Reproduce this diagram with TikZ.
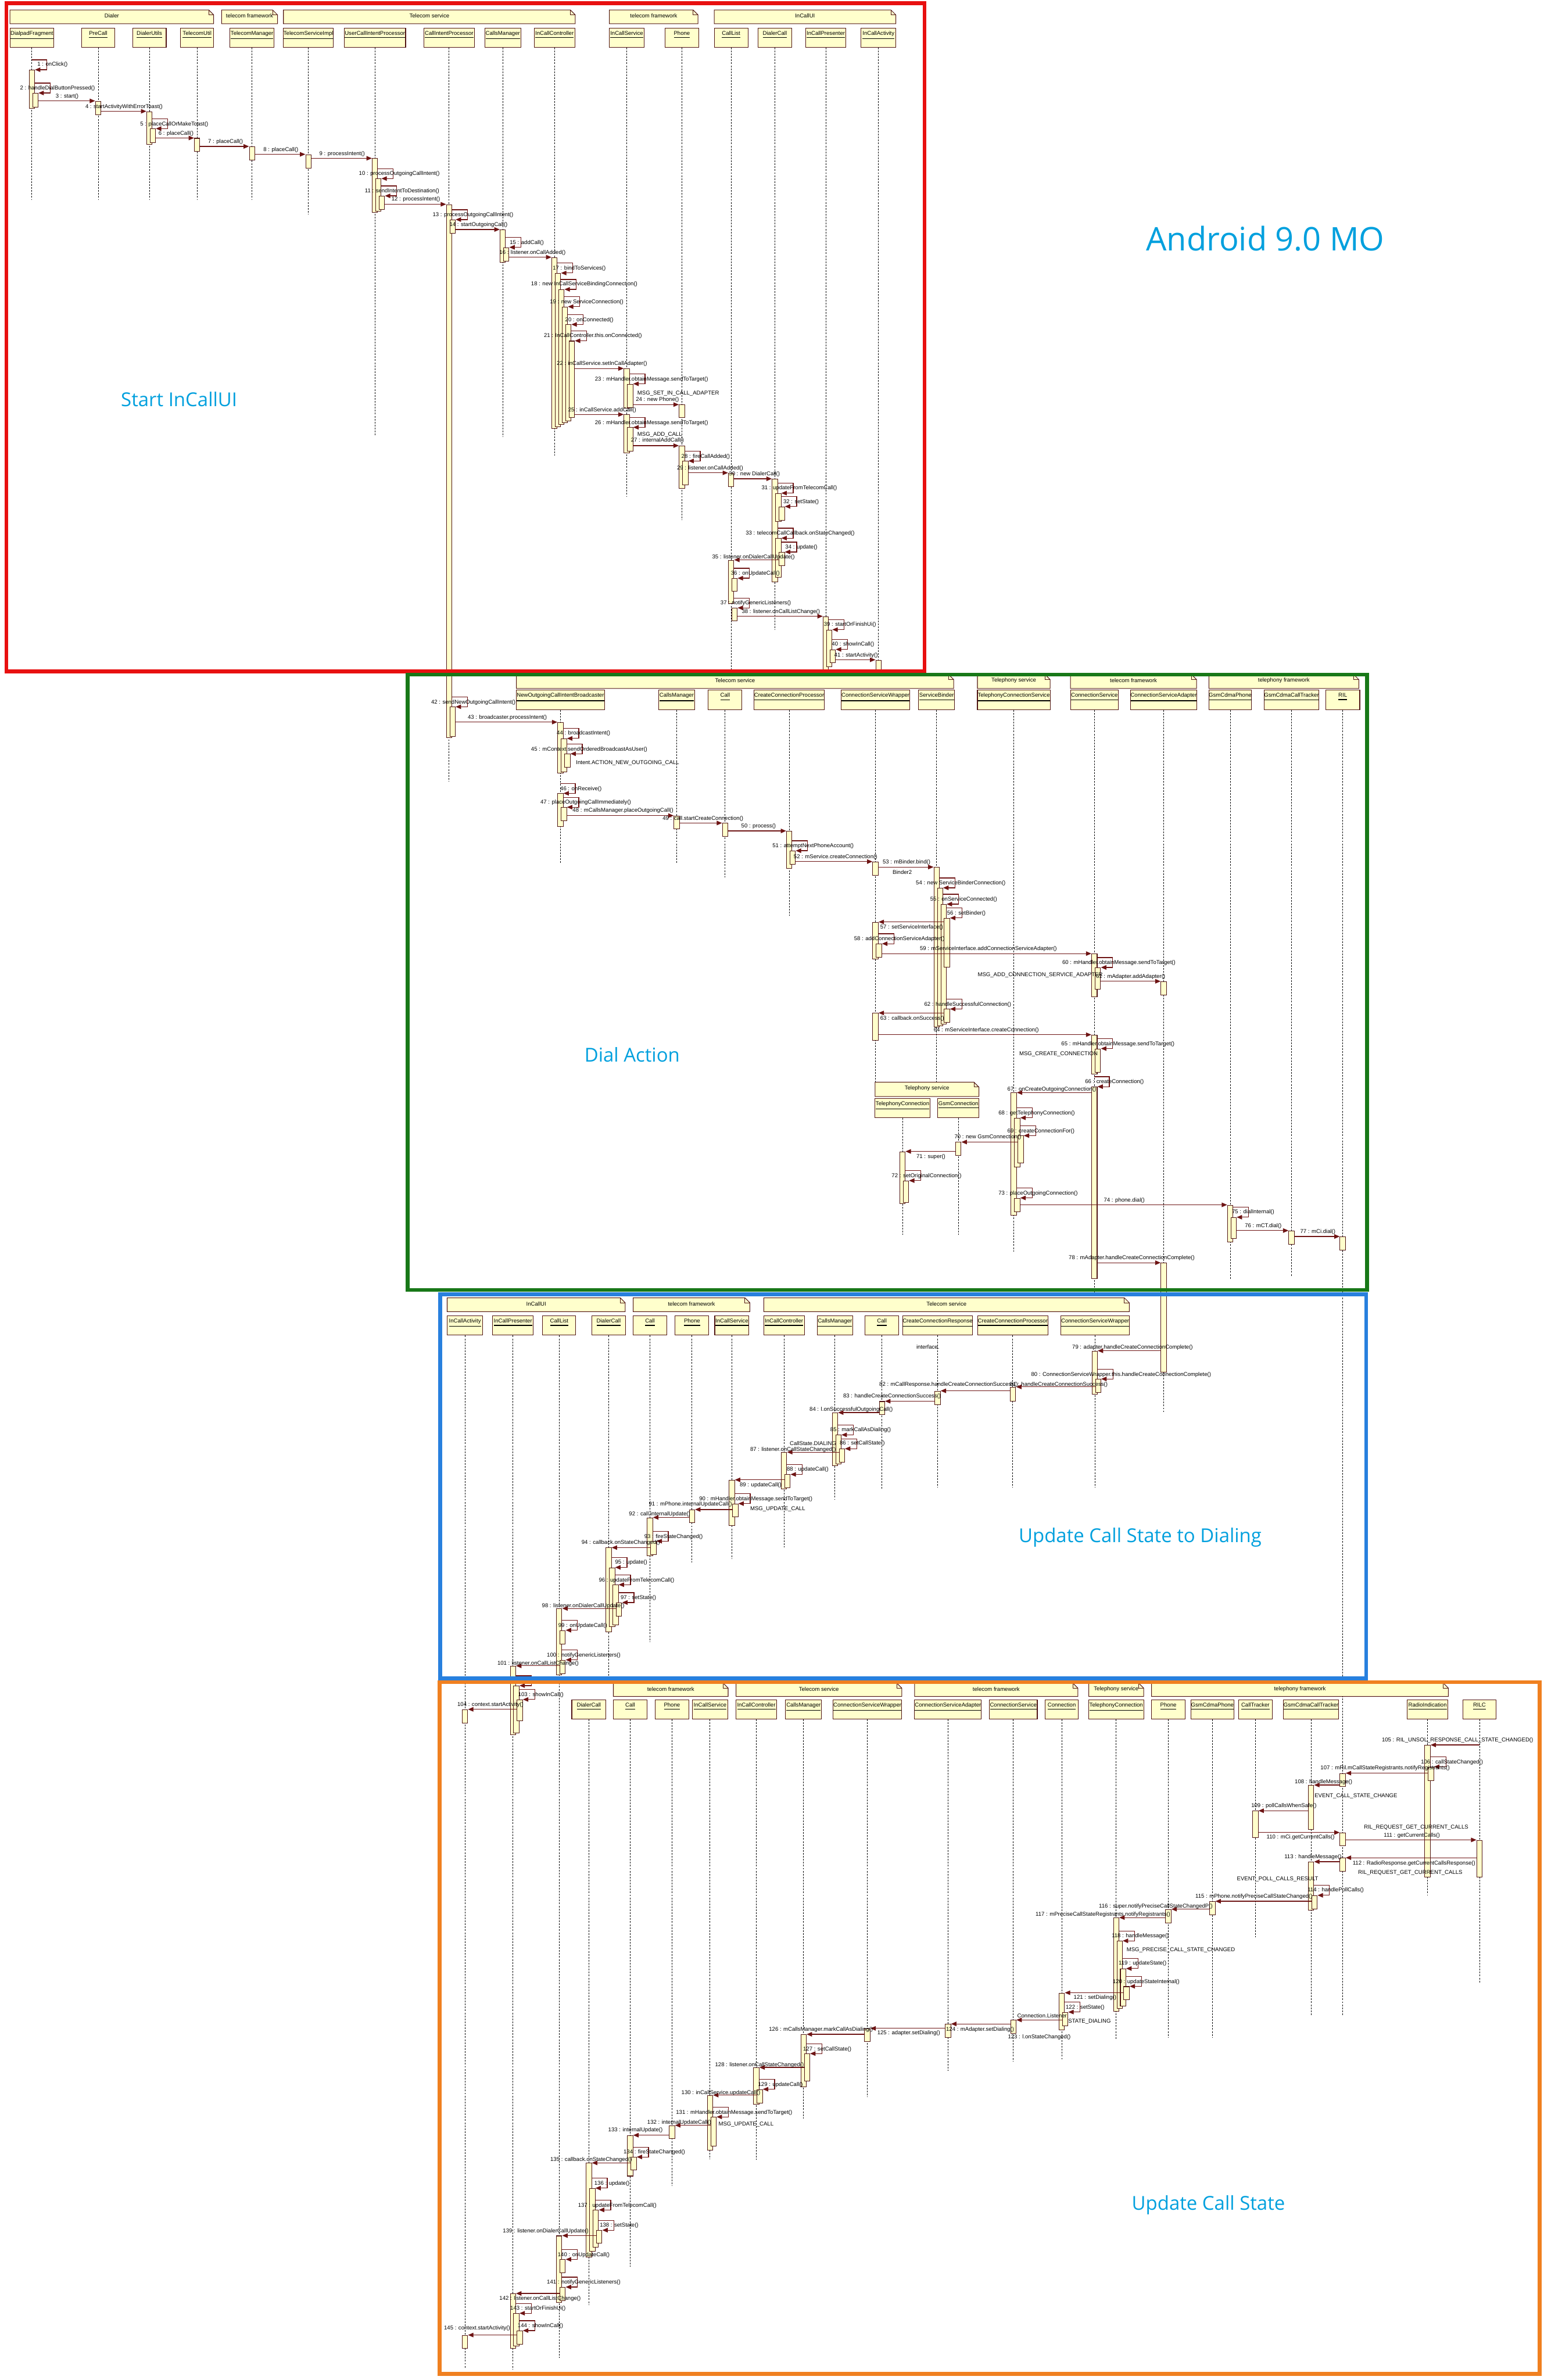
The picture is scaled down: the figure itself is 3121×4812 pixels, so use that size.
\documentclass[tikz,border=0pt]{standalone}
\usepackage{fontspec}
\newfontfamily\umlfont{Liberation Sans}
\newfontfamily\titlefont{Open Sans}
\usetikzlibrary{arrows.meta,calc}
\pgfdeclarelayer{fg}
\pgfsetlayers{main,fg}
\definecolor{umlfill}{RGB}{255,255,204}
\definecolor{umledge}{RGB}{80,20,20}
\definecolor{umlmsg}{RGB}{110,20,20}
\definecolor{boxred}{RGB}{232,16,16}
\definecolor{boxgreen}{RGB}{24,120,24}
\definecolor{boxblue}{RGB}{40,128,222}
\definecolor{boxorange}{RGB}{240,128,32}
\definecolor{titleblue}{RGB}{0,160,222}
\tikzset{
  hdr/.style={draw=umledge,fill=umlfill,line width=0.012cm,inner xsep=0pt,inner ysep=0.02cm,
    text height=0.12cm,text depth=0.23cm,anchor=north,font=\umlfont\fontsize{3.2}{3.8}\selectfont},
  abar/.style={draw=umledge,fill=umlfill,line width=0.012cm,minimum width=0.11cm,inner sep=0pt,anchor=north},
  msg/.style={draw=umlmsg,line width=0.014cm,-{Triangle[length=0.11cm,width=0.09cm]}},
  life/.style={draw=black,line width=0.01cm,dash pattern=on 0.035cm off 0.025cm},
  lbl/.style={font=\umlfont\fontsize{3.2}{3.8}\selectfont,inner sep=0pt,anchor=west},
  pkg/.style={draw=umledge,fill=umlfill,line width=0.012cm},
  sect/.style={line width=0.08cm},
  caption/.style={font=\titlefont\fontsize{11}{13}\selectfont,text=titleblue}
}
\newcommand{\lifeln}[6]{\node[hdr,minimum width=#4*0.01cm] (#1) at (#2,#3) {\underline{#6}};
  \draw[life] (#1.south) -- (#1.south |- 0,#5);}
\newcommand{\pkgframe}[6]{\draw[pkg] (#1,#3) -- (#2-10,#3) -- (#2,#3+10) -- (#2,#4) -- (#1,#4) -- cycle;
  \draw[umledge,line width=0.012cm] (#2-10,#3) -- (#2-10,#3+10) -- (#2,#3+10);
  \node[lbl,anchor=center] (#6) at ({(#1+#2)/2},#3+12) {#5};}
\newcommand{\actb}[4]{\node[abar,minimum height={(#4-#3)*0.01cm}] (#1) at (#2,#3) {};}
\newcommand{\msgr}[2]{\draw[msg] (#1.east |- #2.north) -- (#2.north west);}
\newcommand{\msgl}[2]{\draw[msg] (#1.west |- #2.north) -- (#2.north east);}
\newcommand{\msglf}[2]{\draw[msg] (#1.south |- #2.north) -- (#2.north east);}
\newcommand{\msgs}[2]{\draw[msg] ($(#1.east |- #2.north)+(0,-20)$) -| ($(#2.north east)+(24,0)$) -- (#2.north east);}
\newcommand{\msgsl}[2]{\draw[msg] ($(#1.south |- #2.north)+(0,-20)$) -| ($(#2.north east)+(24,0)$) -- (#2.north east);}
\newcommand{\mlabel}[4]{\begin{pgfonlayer}{fg}\node[lbl] (#1) at (#2,#3) {#4};\end{pgfonlayer}}
\begin{document}
\begin{tikzpicture}[x=0.01cm,y=-0.01cm]
\useasboundingbox[fill=white] (0,0) rectangle (3121,4812);

\pkgframe{20}{432}{20}{48}{Dialer}{pDialer}
\pkgframe{448}{561}{20}{48}{telecom framework}{pTfwA}
\pkgframe{573}{1163}{20}{48}{Telecom service}{pTsvA}
\pkgframe{1232}{1411}{20}{48}{telecom framework}{pTfwB}
\pkgframe{1444}{1811}{20}{48}{InCallUI}{pUiA}
\lifeln{dpf}{64.5}{56}{89}{404}{DialpadFragment}
\lifeln{pre}{198.5}{56}{67}{404}{PreCall}
\lifeln{dut}{302}{56}{68}{404}{DialerUtils}
\lifeln{tut}{398.5}{56}{67}{404}{TelecomUtil}
\lifeln{tmg}{509.5}{56}{89}{404}{TelecomManager}
\lifeln{tsi}{623.5}{56}{101}{433}{TelecomServiceImpl}
\lifeln{uci}{758}{56}{124}{880}{UserCallIntentProcessor}
\lifeln{cip}{908}{56}{102}{1580}{CallIntentProcessor}
\lifeln{cmA}{1016.5}{56}{73}{884}{CallsManager}
\lifeln{iccA}{1121}{56}{82}{921}{InCallController}
\lifeln{icsA}{1267}{56}{70}{1003}{InCallService}
\lifeln{phA}{1378.5}{56}{69}{1051}{Phone}
\lifeln{clA}{1478}{56}{68}{1360}{CallList}
\lifeln{dcA}{1566.5}{56}{69}{1274}{DialerCall}
\lifeln{ipA}{1669.5}{56}{81}{1360}{InCallPresenter}
\lifeln{iaA}{1776}{56}{70}{1360}{InCallActivity}

\pkgframe{1044}{1928}{1364}{1392}{Telecom service}{pTsvB}
\pkgframe{1976}{2123}{1364}{1392}{Telephony service}{pTelB}
\pkgframe{2164}{2419}{1364}{1392}{telecom framework}{pTfwC}
\pkgframe{2444}{2747}{1364}{1392}{telephony framework}{pTyfB}
\lifeln{nob}{1133}{1395}{178}{1744}{NewOutgoingCallIntentBroadcaster}
\lifeln{cmB}{1368}{1395}{72}{1744}{CallsManager}
\lifeln{caB}{1466}{1395}{68}{1774}{Call}
\lifeln{ccpB}{1595.5}{1395}{143}{1852}{CreateConnectionProcessor}
\lifeln{cswB}{1770}{1395}{138}{2187}{ConnectionServiceWrapper}
\lifeln{sbB}{1893.5}{1395}{73}{2187}{ServiceBinder}
\lifeln{tcsB}{2049.5}{1395}{147}{2531}{TelephonyConnectionService}
\lifeln{csB}{2212.5}{1395}{97}{2615}{ConnectionService}
\lifeln{csaB}{2352.5}{1395}{135}{2855}{ConnectionServiceAdapter}
\lifeln{gpB}{2487}{1395}{86}{2587}{GsmCdmaPhone}
\lifeln{gctB}{2611}{1395}{108}{2580}{GsmCdmaCallTracker}
\lifeln{rilB}{2714.5}{1395}{69}{4075}{RIL}
\pkgframe{1769}{1979}{2188}{2217}{Telephony service}{pTelC}
\lifeln{tcB}{1824.5}{2220}{111}{2497}{TelephonyConnection}
\lifeln{gcB}{1937.5}{2220}{83}{2497}{GsmConnection}

\pkgframe{904}{1264}{2624}{2652}{InCallUI}{pUiB}
\pkgframe{1280}{1516}{2624}{2652}{telecom framework}{pTfwD}
\pkgframe{1544}{2283}{2624}{2652}{Telecom service}{pTsvC}
\lifeln{iaC}{940}{2660}{72}{4788}{InCallActivity}
\lifeln{ipC}{1037}{2660}{82}{4790}{InCallPresenter}
\lifeln{clC}{1130.5}{2660}{67}{4767}{CallList}
\lifeln{dcC}{1230.5}{2660}{69}{3392}{DialerCall}
\lifeln{caC}{1314}{2660}{68}{3319}{Call}
\lifeln{phC}{1399}{2660}{68}{3159}{Phone}
\lifeln{icsC}{1479.5}{2660}{69}{3152}{InCallService}
\lifeln{iccC}{1585}{2660}{82}{3128}{InCallController}
\lifeln{cmC}{1688}{2660}{72}{3031}{CallsManager}
\lifeln{caCC}{1783}{2660}{68}{3010}{Call}
\lifeln{ccrC}{1895.5}{2660}{141}{3008}{CreateConnectionResponse}
\lifeln{ccpC}{2047.5}{2660}{141}{3008}{CreateConnectionProcessor}
\lifeln{cswC}{2214}{2660}{138}{3008}{ConnectionServiceWrapper}

\pkgframe{1240}{1472}{3403}{3430}{telecom framework}{pTfwE}
\pkgframe{1488}{1823}{3403}{3430}{Telecom service}{pTsvD}
\pkgframe{1849}{2179}{3403}{3430}{telecom framework}{pTfwF}
\pkgframe{2201}{2312}{3403}{3430}{Telephony service}{pTelD}
\pkgframe{2328}{2928}{3403}{3430}{telephony framework}{pTyfD}
\lifeln{dcD}{1190.5}{3436}{69}{4660}{DialerCall}
\lifeln{caD}{1274}{3436}{68}{4583}{Call}
\lifeln{phD}{1358.5}{3436}{69}{4420}{Phone}
\lifeln{icsD}{1435.5}{3436}{71}{4365}{InCallService}
\lifeln{iccD}{1529}{3436}{82}{4367}{InCallController}
\lifeln{cmD}{1624.5}{3436}{73}{4283}{CallsManager}
\lifeln{cswD}{1753.5}{3436}{139}{4240}{ConnectionServiceWrapper}
\lifeln{csaD}{1916.5}{3436}{135}{4187}{ConnectionServiceAdapter}
\lifeln{csD}{2048.5}{3436}{97}{4168}{ConnectionService}
\lifeln{cnD}{2146.5}{3436}{67}{4163}{Connection}
\lifeln{tcD}{2256.5}{3436}{111}{4122}{TelephonyConnection}
\lifeln{phDD}{2362}{3436}{68}{4120}{Phone}
\lifeln{gpD}{2451}{3436}{86}{4120}{GsmCdmaPhone}
\lifeln{ctD}{2538}{3436}{68}{3917}{CallTracker}
\lifeln{gctD}{2650.5}{3436}{109}{4075}{GsmCdmaCallTracker}
\lifeln{riD}{2886}{3436}{82}{3832}{RadioIndication}
\lifeln{rilcD}{2991}{3436}{68}{4008}{RILC}

\actb{b1}{64.5}{141}{219}\msgsl{dpf}{b1}
\mlabel{l1}{75}{131}{1 : onClick()}
\actb{b2}{71.5}{188}{216}\msgs{b1}{b2}
\mlabel{l2}{40}{179}{2 : handleDialButtonPressed()}
\actb{b3}{198.5}{204}{231}\msgr{b2}{b3}
\mlabel{l3}{112}{195}{3 : start()}
\actb{b4}{302}{225}{291}\msgr{b3}{b4}
\mlabel{l4}{172}{216}{4 : startActivityWithErrorToast()}
\actb{b5}{309}{260}{288}\msgs{b4}{b5}
\mlabel{l5}{283}{251}{5 : placeCallOrMakeToast()}
\actb{b6}{398.5}{279}{306}\msgr{b5}{b6}
\mlabel{l6}{320}{270}{6 : placeCall()}
\actb{b7}{509.5}{296}{323}\msgr{b6}{b7}
\mlabel{l7}{420}{287}{7 : placeCall()}
\actb{b8}{623.5}{312}{339}\msgr{b7}{b8}
\mlabel{l8}{532}{303}{8 : placeCall()}
\actb{b9}{758}{320}{429}\msgr{b8}{b9}
\mlabel{l9}{645}{311}{9 : processIntent()}
\actb{b10}{765}{361}{426}\msgs{b9}{b10}
\mlabel{l10}{725}{351}{10 : processOutgoingCallIntent()}
\actb{b11}{772}{396}{423}\msgs{b10}{b11}
\mlabel{l11}{737}{387}{11 : sendIntentToDestination()}
\actb{b12}{908}{413}{1491}\msgr{b11}{b12}
\mlabel{l12}{791}{403}{12 : processIntent()}
\actb{b13}{915}{444}{471}\msgs{b12}{b13}
\mlabel{l13}{874}{435}{13 : processOutgoingCallIntent()}
\actb{b14}{1016.5}{464}{530}\msgr{b13}{b14}
\mlabel{l14}{908}{455}{14 : startOutgoingCall()}
\actb{b15}{1023.5}{500}{528}\msgs{b14}{b15}
\mlabel{l15}{1030}{491}{15 : addCall()}
\actb{b16}{1121}{520}{866}\msgr{b15}{b16}
\mlabel{l16}{1009}{511}{16 : listener.onCallAdded()}
\actb{b17}{1128}{552}{862}\msgs{b16}{b17}
\mlabel{l17}{1117}{543}{17 : bindToServices()}
\actb{b18}{1135}{585}{858}\msgs{b17}{b18}
\mlabel{l18}{1073}{575}{18 : new InCallServiceBindingConnection()}
\actb{b19}{1142}{620}{854}\msgs{b18}{b19}
\mlabel{l19}{1111}{611}{19 : new ServiceConnection()}
\actb{b20}{1149}{656}{850}\msgs{b19}{b20}
\mlabel{l20}{1142}{647}{20 : onConnected()}
\actb{b21}{1156}{689}{843}\msgs{b20}{b21}
\mlabel{l21}{1099}{679}{21 : InCallController.this.onConnected()}
\actb{b22}{1267}{745}{825}\msgr{b21}{b22}
\mlabel{l22}{1125}{735}{22 : inCallService.setInCallAdapter()}
\actb{b23}{1274}{776}{824}\msgs{b22}{b23}
\mlabel{l23}{1202}{767}{23 : mHandler.obtainMessage.sendToTarget()}
\mlabel{n23}{1288}{795}{MSG\_SET\_IN\_CALL\_ADAPTER}
\actb{b24}{1378.5}{818}{844}\msgr{b23}{b24}
\mlabel{l24}{1285}{808}{24 : new Phone()}
\actb{b25}{1267}{838}{915}\msgr{b21}{b25}
\mlabel{l25}{1148}{829}{25 : inCallService.addCall()}
\actb{b26}{1274}{864}{912}\msgs{b25}{b26}
\mlabel{l26}{1202}{855}{26 : mHandler.obtainMessage.sendToTarget()}
\mlabel{n26}{1288}{879}{MSG\_ADD\_CALL}
\actb{b27}{1378.5}{901}{987}\msgr{b26}{b27}
\mlabel{l27}{1275}{891}{27 : internalAddCall()}
\actb{b28}{1385.5}{932}{980}\msgs{b27}{b28}
\mlabel{l28}{1377}{923}{28 : fireCallAdded()}
\actb{b29}{1478}{956}{983}\msgr{b28}{b29}
\mlabel{l29}{1368}{947}{29 : listener.onCallAdded()}
\actb{b30}{1566.5}{968}{1176}\msgr{b29}{b30}
\mlabel{l30}{1473}{959}{30 : new DialerCall()}
\actb{b31}{1573.5}{997}{1054}\msgs{b30}{b31}
\mlabel{l31}{1539}{987}{31 : updateFromTelecomCall()}
\actb{b32}{1580.5}{1024}{1051}\msgs{b31}{b32}
\mlabel{l32}{1583}{1015}{32 : setState()}
\actb{b33}{1573.5}{1088}{1167}\msgs{b30}{b33}
\mlabel{l33}{1507}{1079}{33 : telecomCallCallback.onStateChanged()}
\actb{b34}{1580.5}{1116}{1143}\msgs{b33}{b34}
\mlabel{l34}{1587}{1107}{34 : update()}
\actb{b35}{1478}{1132}{1219}\msgl{b34}{b35}
\mlabel{l35}{1439}{1127}{35 : listener.onDialerCallUpdate()}
\actb{b36}{1485}{1169}{1195}\msgs{b35}{b36}
\mlabel{l36}{1477}{1159}{36 : onUpdateCall()}
\actb{b37}{1485}{1229}{1255}\msgs{b35}{b37}
\mlabel{l37}{1456}{1219}{37 : notifyGenericListeners()}
\actb{b38}{1669.5}{1246}{1355}\msgr{b37}{b38}
\mlabel{l38}{1499}{1237}{38 : listener.onCallListChange()}
\actb{b39}{1676.5}{1273}{1348}\msgs{b38}{b39}
\mlabel{l39}{1665}{1263}{39 : startOrFinishUi()}
\actb{b40}{1683.5}{1313}{1339}\msgs{b39}{b40}
\mlabel{l40}{1681}{1303}{40 : showInCall()}
\actb{b41}{1776}{1334}{1362}\msgr{b40}{b41}
\mlabel{l41}{1686}{1325}{41 : startActivity()}

\actb{b42}{915}{1429}{1489}\msgs{b12}{b42}
\mlabel{l42}{871}{1420}{42 : sendNewOutgoingCallIntent()}
\actb{b43}{1133}{1460}{1563}\msgr{b42}{b43}
\mlabel{l43}{945}{1451}{43 : broadcaster.processIntent()}
\actb{b44}{1140}{1493}{1560}\msgs{b43}{b44}
\mlabel{l44}{1125}{1483}{44 : broadcastIntent()}
\actb{b45}{1147}{1524}{1551}\msgs{b44}{b45}
\mlabel{l45}{1073}{1515}{45 : mContext.sendOrderedBroadcastAsUser()}
\mlabel{n45}{1164}{1543}{Intent.ACTION\_NEW\_OUTGOING\_CALL}
\actb{b46}{1133}{1604}{1671}\msgsl{nob}{b46}
\mlabel{l46}{1132}{1595}{46 : onReceive()}
\actb{b47}{1140}{1632}{1659}\msgs{b46}{b47}
\mlabel{l47}{1092}{1623}{47 : placeOutgoingCallImmediately()}
\actb{b48}{1368}{1649}{1675}\msgr{b47}{b48}
\mlabel{l48}{1157}{1639}{48 : mCallsManager.placeOutgoingCall()}
\actb{b49}{1466}{1664}{1691}\msgr{b48}{b49}
\mlabel{l49}{1339}{1655}{49 : call.startCreateConnection()}
\actb{b50}{1595.5}{1680}{1755}\msgr{b49}{b50}
\mlabel{l50}{1498}{1671}{50 : process()}
\actb{b51}{1602.5}{1720}{1747}\msgs{b50}{b51}
\mlabel{l51}{1561}{1711}{51 : attemptNextPhoneAccount()}
\actb{b52}{1770}{1742}{1769}\msgr{b51}{b52}
\mlabel{l52}{1604}{1733}{52 : mService.createConnection()}
\actb{b53}{1893.5}{1753}{2076}\msgr{b52}{b53}
\mlabel{l53}{1784}{1743}{53 : mBinder.bind()}
\mlabel{n53}{1804}{1763}{Binder2}
\actb{b54}{1900.5}{1795}{2073}\msgs{b53}{b54}
\mlabel{l54}{1851}{1786}{54 : new ServiceBinderConnection()}
\actb{b55}{1907.5}{1828}{2070}\msgs{b54}{b55}
\mlabel{l55}{1880}{1819}{55 : onServiceConnected()}
\actb{b56}{1914.5}{1856}{1955}\msgs{b55}{b56}
\mlabel{l56}{1914}{1847}{56 : setBinder()}
\actb{b57}{1770}{1864}{1938}\msgl{b56}{b57}
\mlabel{l57}{1779}{1875}{57 : setServiceInterface()}
\actb{b58}{1777}{1908}{1935}\msgs{b57}{b58}
\mlabel{l58}{1726}{1899}{58 : addConnectionServiceAdapter()}
\actb{b59}{2212.5}{1928}{2015}\msgr{b58}{b59}
\mlabel{l59}{1859}{1919}{59 : mServiceInterface.addConnectionServiceAdapter()}
\actb{b60}{2219.5}{1956}{2000}\msgs{b59}{b60}
\mlabel{l60}{2147}{1947}{60 : mHandler.obtainMessage.sendToTarget()}
\mlabel{n60}{1976}{1971}{MSG\_ADD\_CONNECTION\_SERVICE\_ADAPTER}
\actb{b61}{2352.5}{1984}{2011}\msgr{b60}{b61}
\mlabel{l61}{2215}{1975}{61 : mAdapter.addAdapter()}
\actb{b62}{1914.5}{2040}{2067}\msgs{b55}{b62}
\mlabel{l62}{1868}{2031}{62 : handleSuccessfulConnection()}
\actb{b63}{1770}{2048}{2103}\msgl{b62}{b63}
\mlabel{l63}{1779}{2059}{63 : callback.onSuccess()}
\actb{b64}{2212.5}{2092}{2171}\msgr{b63}{b64}
\mlabel{l64}{1887}{2083}{64 : mServiceInterface.createConnection()}
\actb{b65}{2219.5}{2120}{2168}\msgs{b64}{b65}
\mlabel{l65}{2145}{2111}{65 : mHandler.obtainMessage.sendToTarget()}
\mlabel{n65}{2060}{2131}{MSG\_CREATE\_CONNECTION}
\actb{b66}{2212.5}{2197}{2584}\msgsl{csB}{b66}
\mlabel{l66}{2193}{2187}{66 : createConnection()}
\actb{b67}{2049.5}{2209}{2456}\msgl{b66}{b67}
\mlabel{l67}{2036}{2203}{67 : onCreateOutgoingConnection()}
\actb{b68}{2056.5}{2260}{2359}\msgs{b67}{b68}
\mlabel{l68}{2018}{2251}{68 : getTelephonyConnection()}
\actb{b69}{2063.5}{2296}{2351}\msgs{b68}{b69}
\mlabel{l69}{2036}{2287}{69 : createConnectionFor()}
\actb{b70}{1937.5}{2309}{2335}\msgl{b69}{b70}
\mlabel{l70}{1929}{2299}{70 : new GsmConnection()}
\actb{b71}{1824.5}{2328}{2433}\msgl{b70}{b71}
\mlabel{l71}{1852}{2339}{71 : super()}
\actb{b72}{1831.5}{2387}{2431}\msgs{b71}{b72}
\mlabel{l72}{1802}{2378}{72 : setOriginalConnection()}
\actb{b73}{2056.5}{2422}{2449}\msgs{b67}{b73}
\mlabel{l73}{2018}{2413}{73 : placeOutgoingConnection()}
\actb{b74}{2487}{2436}{2511}\msgr{b73}{b74}
\mlabel{l74}{2231}{2427}{74 : phone.dial()}
\actb{b75}{2494}{2461}{2503}\msgs{b74}{b75}
\mlabel{l75}{2490}{2451}{75 : dialInternal()}
\actb{b76}{2611}{2488}{2515}\msgr{b75}{b76}
\mlabel{l76}{2516}{2479}{76 : mCT.dial()}
\actb{b77}{2714.5}{2500}{2527}\msgr{b76}{b77}
\mlabel{l77}{2628}{2491}{77 : mCi.dial()}
\actb{b78}{2352.5}{2553}{2774}\msgr{b66}{b78}
\mlabel{l78}{2160}{2543}{78 : mAdapter.handleCreateConnectionComplete()}

\actb{b79}{2213}{2731}{2818}\msgl{b78}{b79}
\mlabel{l79}{2167}{2724}{79 : adapter.handleCreateConnectionComplete()}
\mlabel{n79}{1852}{2723}{interface.}
\actb{b80}{2220}{2788}{2815}\msgs{b79}{b80}
\mlabel{l80}{2084}{2779}{80 : ConnectionServiceWrapper.this.handleCreateConnectionComplete()}
\actb{b81}{2048}{2804}{2832}\msgl{b80}{b81}
\mlabel{l81}{2041}{2799}{81 : handleCreateConnectionSuccess()}
\actb{b82}{1895.5}{2812}{2839}\msgl{b81}{b82}
\mlabel{l82}{1777}{2799}{82 : mCallResponse.handleCreateConnectionSuccess()}
\actb{b83}{1783}{2833}{2859}\msgl{b82}{b83}
\mlabel{l83}{1704}{2823}{83 : handleCreateConnectionSuccess()}
\actb{b84}{1688}{2856}{2963}\msgl{b83}{b84}
\mlabel{l84}{1636}{2850}{84 : l.onSuccessfulOutgoingCall()}
\actb{b85}{1695}{2901}{2959}\msgs{b84}{b85}
\mlabel{l85}{1678}{2891}{85 : markCallAsDialing()}
\actb{b86}{1702}{2929}{2956}\msgs{b85}{b86}
\mlabel{l86}{1697}{2918}{86 : setCallState()}
\mlabel{n86}{1596}{2918}{CallState.DIALING}
\actb{b87}{1585}{2936}{3010}\msgl{b86}{b87}
\mlabel{l87}{1516}{2931}{87 : listener.onCallStateChanged()}
\actb{b88}{1592}{2981}{3007}\msgs{b87}{b88}
\mlabel{l88}{1590}{2971}{88 : updateCall()}
\actb{b89}{1479.5}{2992}{3084}\msgl{b88}{b89}
\mlabel{l89}{1495}{3003}{89 : updateCall()}
\actb{b90}{1486.5}{3040}{3066}\msgs{b89}{b90}
\mlabel{l90}{1413}{3031}{90 : mHandler.obtainMessage.sendToTarget()}
\mlabel{n90}{1516}{3051}{MSG\_UPDATE\_CALL}
\actb{b91}{1399}{3052}{3078}\msgl{b90}{b91}
\mlabel{l91}{1311}{3042}{91 : mPhone.internalUpdateCall()}
\actb{b92}{1314}{3068}{3145}\msgl{b91}{b92}
\mlabel{l92}{1271}{3062}{92 : call.internalUpdate()}
\actb{b93}{1321}{3116}{3143}\msgs{b92}{b93}
\mlabel{l93}{1302}{3107}{93 : fireStateChanged()}
\actb{b94}{1230.5}{3129}{3299}\msgl{b93}{b94}
\mlabel{l94}{1175}{3119}{94 : callback.onStateChanged()}
\actb{b95}{1237.5}{3169}{3288}\msgs{b94}{b95}
\mlabel{l95}{1243}{3159}{95 : update()}
\actb{b96}{1244.5}{3204}{3285}\msgs{b95}{b96}
\mlabel{l96}{1210}{3195}{96 : updateFromTelecomCall()}
\actb{b97}{1251.5}{3240}{3267}\msgs{b96}{b97}
\mlabel{l97}{1254}{3231}{97 : setState()}
\actb{b98}{1130.5}{3252}{3386}\msgl{b97}{b98}
\mlabel{l98}{1095}{3247}{98 : listener.onDialerCallUpdate()}
\actb{b99}{1137.5}{3296}{3323}\msgs{b98}{b99}
\mlabel{l99}{1128}{3287}{99 : onUpdateCall()}
\actb{b100}{1137.5}{3356}{3383}\msgs{b98}{b100}
\mlabel{l100}{1105}{3347}{100 : notifyGenericListeners()}
\actb{b101}{1037}{3368}{3507}\msgl{b100}{b101}
\mlabel{l101}{1005}{3363}{101 : listener.onCallListChange()}
\actb{b102}{1044}{3408}{3503}\msgs{b101}{b102}
\mlabel{l102}{1030}{3398}{102 : startOrFinishUi()}
\actb{b103}{1051}{3436}{3479}\msgs{b102}{b103}
\mlabel{l103}{1047}{3427}{103 : showInCall()}
\actb{b104}{940}{3456}{3483}\msgl{b103}{b104}
\mlabel{l104}{924}{3447}{104 : context.startActivity()}

\actb{b105}{2886}{3528}{3794}\msglf{rilcD}{b105}
\mlabel{l105}{2793}{3519}{105 : RIL\_UNSOL\_RESPONSE\_CALL\_STATE\_CHANGED()}
\actb{b106}{2893}{3572}{3599}\msgs{b105}{b106}
\mlabel{l106}{2872}{3563}{106 : callStateChanged()}
\actb{b107}{2714.5}{3585}{3611}\msgl{b106}{b107}
\mlabel{l107}{2669}{3575}{107 : mRil.mCallStateRegistrants.notifyRegistrants()}
\actb{b108}{2650.5}{3609}{3698}\msgl{b107}{b108}
\mlabel{l108}{2617}{3603}{108 : handleMessage()}
\mlabel{n108}{2657}{3631}{EVENT\_CALL\_STATE\_CHANGE}
\actb{b109}{2538}{3661}{3715}\msgl{b108}{b109}
\mlabel{l109}{2529}{3651}{109 : pollCallsWhenSafe()}
\actb{b110}{2714.5}{3705}{3731}\msgr{b109}{b110}
\mlabel{l110}{2560}{3715}{110 : mCi.getCurrentCalls()}
\mlabel{n110}{2757}{3695}{RIL\_REQUEST\_GET\_CURRENT\_CALLS}
\actb{b111}{2991}{3720}{3795}\msgr{b110}{b111}
\mlabel{l111}{2797}{3711}{111 : getCurrentCalls()}
\actb{b112}{2714.5}{3756}{3783}\msgl{b111}{b112}
\mlabel{l112}{2734}{3767}{112 : RadioResponse.getCurrentCallsResponse()}
\mlabel{n112}{2745}{3786}{RIL\_REQUEST\_GET\_CURRENT\_CALLS}
\actb{b113}{2650.5}{3764}{3862}\msgl{b112}{b113}
\mlabel{l113}{2596}{3755}{113 : handleMessage()}
\mlabel{n113}{2500}{3799}{EVENT\_POLL\_CALLS\_RESULT}
\actb{b114}{2657.5}{3832}{3859}\msgs{b113}{b114}
\mlabel{l114}{2643}{3822}{114 : handlePollCalls()}
\actb{b115}{2451}{3844}{3871}\msgl{b114}{b115}
\mlabel{l115}{2416}{3835}{115 : mPhone.notifyPreciseCallStateChanged()}
\actb{b116}{2362}{3860}{3887}\msgl{b115}{b116}
\mlabel{l116}{2221}{3855}{116 : super.notifyPreciseCallStateChangedP()}
\actb{b117}{2256.5}{3877}{4066}\msgl{b116}{b117}
\mlabel{l117}{2093}{3871}{117 : mPreciseCallStateRegistrants.notifyRegistrants()}
\actb{b118}{2263.5}{3924}{4060}\msgs{b117}{b118}
\mlabel{l118}{2247}{3915}{118 : handleMessage()}
\mlabel{n118}{2277}{3943}{MSG\_PRECISE\_CALL\_STATE\_CHANGED}
\actb{b119}{2270.5}{3980}{4055}\msgs{b118}{b119}
\mlabel{l119}{2261}{3970}{119 : updateState()}
\actb{b120}{2277.5}{4016}{4043}\msgs{b119}{b120}
\mlabel{l120}{2249}{4007}{120 : updateStateInternal()}
\actb{b121}{2146.5}{4029}{4103}\msgl{b120}{b121}
\mlabel{l121}{2170}{4039}{121 : setDialing()}
\actb{b122}{2153.5}{4068}{4095}\msgs{b121}{b122}
\mlabel{l122}{2154}{4059}{122 : setState()}
\mlabel{n122}{2159}{4087}{STATE\_DIALING}
\actb{b123}{2048.5}{4084}{4111}\msgl{b122}{b123}
\mlabel{n123}{2056}{4075}{Connection.Listener}
\mlabel{l123}{2037}{4119}{123 : l.onStateChanged()}
\actb{b124}{1916.5}{4092}{4119}\msgl{b123}{b124}
\mlabel{l124}{1912}{4103}{124 : mAdapter.setDialing()}
\actb{b125}{1753.5}{4101}{4127}\msgl{b124}{b125}
\mlabel{l125}{1773}{4111}{125 : adapter.setDialing()}
\actb{b126}{1624.5}{4113}{4219}\msgl{b125}{b126}
\mlabel{l126}{1554}{4103}{126 : mCallsManager.markCallAsDialing()}
\actb{b127}{1631.5}{4152}{4207}\msgs{b126}{b127}
\mlabel{l127}{1623}{4143}{127 : setCallState()}
\actb{b128}{1529}{4180}{4254}\msgl{b127}{b128}
\mlabel{l128}{1445}{4175}{128 : listener.onCallStateChanged()}
\actb{b129}{1536}{4224}{4251}\msgs{b128}{b129}
\mlabel{l129}{1532}{4215}{129 : updateCall()}
\actb{b130}{1435.5}{4236}{4347}\msgl{b129}{b130}
\mlabel{l130}{1377}{4232}{130 : inCallService.updateCall()}
\actb{b131}{1442.5}{4280}{4339}\msgs{b130}{b131}
\mlabel{l131}{1366}{4271}{131 : mHandler.obtainMessage.sendToTarget()}
\mlabel{n131}{1452}{4295}{MSG\_UPDATE\_CALL}
\actb{b132}{1358.5}{4297}{4323}\msgl{b131}{b132}
\mlabel{l132}{1308}{4291}{132 : internalUpdateCall()}
\actb{b133}{1274}{4317}{4399}\msgl{b132}{b133}
\mlabel{l133}{1229}{4307}{133 : internalUpdate()}
\actb{b134}{1281}{4361}{4387}\msgs{b133}{b134}
\mlabel{l134}{1260}{4351}{134 : fireStateChanged()}
\actb{b135}{1190.5}{4373}{4563}\msgl{b134}{b135}
\mlabel{l135}{1112}{4367}{135 : callback.onStateChanged()}
\actb{b136}{1197.5}{4424}{4551}\msgs{b135}{b136}
\mlabel{l136}{1201}{4415}{136 : update()}
\actb{b137}{1204.5}{4468}{4543}\msgs{b136}{b137}
\mlabel{l137}{1168}{4459}{137 : updateFromTelecomCall()}
\actb{b138}{1211.5}{4509}{4535}\msgs{b137}{b138}
\mlabel{l138}{1212}{4499}{138 : setState()}
\actb{b139}{1130.5}{4520}{4654}\msgl{b138}{b139}
\mlabel{l139}{1016}{4511}{139 : listener.onDialerCallUpdate()}
\actb{b140}{1137.5}{4568}{4595}\msgs{b139}{b140}
\mlabel{l140}{1127}{4559}{140 : onUpdateCall()}
\actb{b141}{1137.5}{4624}{4651}\msgs{b139}{b141}
\mlabel{l141}{1105}{4615}{141 : notifyGenericListeners()}
\actb{b142}{1037}{4637}{4747}\msgl{b141}{b142}
\mlabel{l142}{1009}{4647}{142 : listener.onCallListChange()}
\actb{b143}{1044}{4677}{4743}\msgs{b142}{b143}
\mlabel{l143}{1031}{4667}{143 : startOrFinishUi()}
\actb{b144}{1051}{4712}{4739}\msgs{b143}{b144}
\mlabel{l144}{1046}{4703}{144 : showInCall()}
\actb{b145}{940}{4721}{4747}\msgl{b144}{b145}
\mlabel{l145}{897}{4707}{145 : context.startActivity()}

\begin{pgfonlayer}{fg}
\draw[sect,boxred] (13,6) rectangle (1869,1357);
\draw[sect,boxgreen] (824,1364) rectangle (2764,2608);
\draw[sect,boxblue] (890,2617) rectangle (2762,3393);
\draw[sect,boxorange] (889,3401) rectangle (3113,4800);
\node[caption,font=\titlefont\fontsize{18.7}{22}\selectfont] (tMain) at (2558,483) {Android 9.0 MO};
\node[caption] (tStart) at (362,807) {Start InCallUI};
\node[caption] (tDial) at (1278,2133) {Dial Action};
\node[caption] (tDialing) at (2305,3109) {Update Call State to Dialing};
\node[caption] (tUpdate) at (2443,4458) {Update Call State};
\end{pgfonlayer}
\end{tikzpicture}
\end{document}
